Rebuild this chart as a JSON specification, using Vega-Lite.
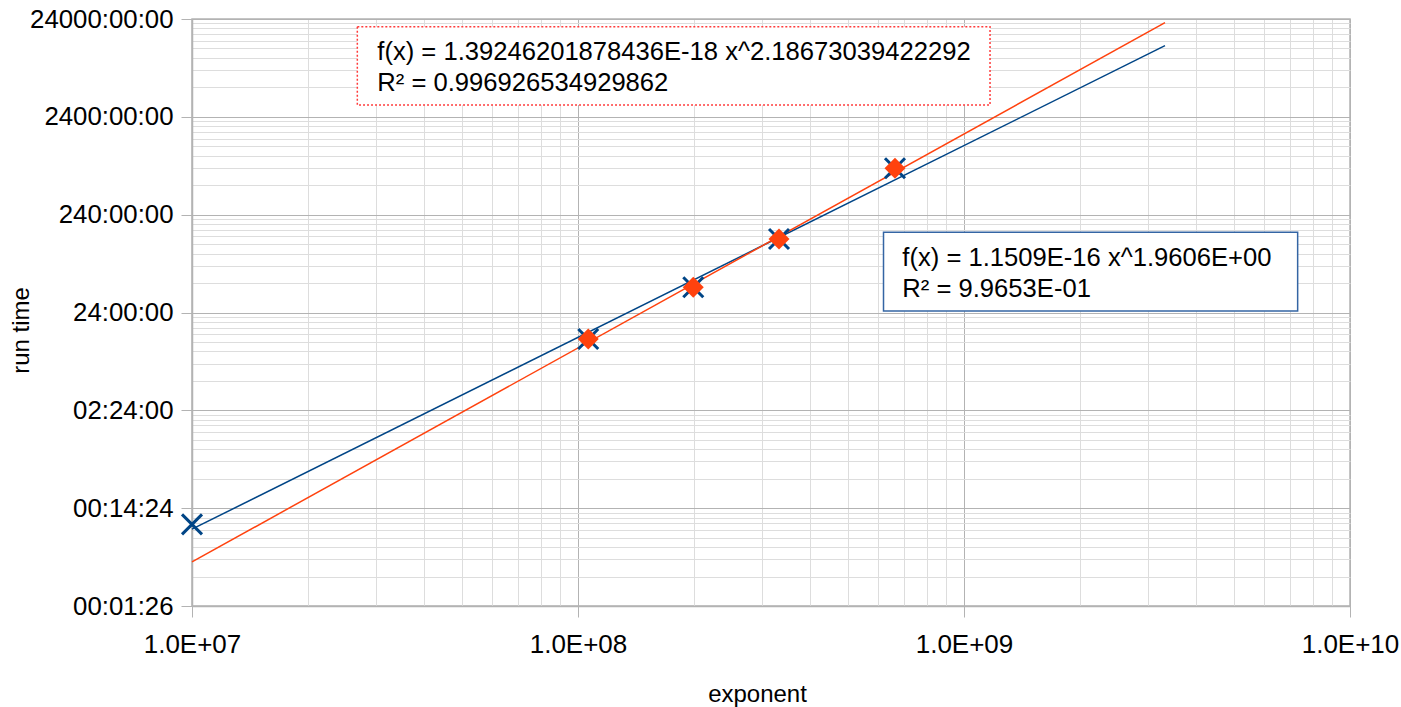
{
  "$schema": "https://vega.github.io/schema/vega-lite/v6.json",
  "width": 1158,
  "height": 587,
  "autosize": {"type": "none"},
  "padding": {"left": 192, "top": 19, "right": 51, "bottom": 101},
  "background": "white",
  "config": {"font": "Liberation Sans", "view": {"stroke": "#b3b3b3", "strokeWidth": 1.5}},
  "datasets": {
    "points": [
      {"exponent": 10000000, "seconds": 590},
      {"exponent": 106300000, "seconds": 46290},
      {"exponent": 198900000, "seconds": 156400},
      {"exponent": 331700000, "seconds": 487500},
      {"exponent": 662500000, "seconds": 2574000}
    ],
    "trend": [
      {"series": "blue", "exponent": 10000000, "seconds": 526.9},
      {"series": "blue", "exponent": 3317000000, "seconds": 46110000},
      {"series": "orange", "exponent": 10000000, "seconds": 244.0},
      {"series": "orange", "exponent": 3317000000, "seconds": 79340000}
    ],
    "boxes": [
      {"box": "orange", "exponent": 26810000, "exponent2": 1168000000, "seconds": 72110000, "seconds2": 11420000},
      {"box": "blue", "exponent": 618700000, "exponent2": 7318000000, "seconds": 570800, "seconds2": 89510}
    ],
    "notes": [
      {"exponent": 30200000, "seconds": 39770000, "label": "f(x) = 1.39246201878436E-18 x^2.18673039422292"},
      {"exponent": 30200000, "seconds": 19300000, "label": "R² = 0.996926534929862"},
      {"exponent": 692300000, "seconds": 313100, "label": "f(x) = 1.1509E-16 x^1.9606E+00"},
      {"exponent": 692300000, "seconds": 149200, "label": "R² = 9.9653E-01"}
    ]
  },
  "encoding": {
    "x": {
      "field": "exponent",
      "type": "quantitative",
      "scale": {"type": "log", "domain": [10000000, 10000000000], "nice": false},
      "axis": {
        "title": "exponent",
        "values": [10000000, 20000000, 30000000, 40000000, 50000000, 60000000, 70000000, 80000000, 90000000,
                   100000000, 200000000, 300000000, 400000000, 500000000, 600000000, 700000000, 800000000, 900000000,
                   1000000000, 2000000000, 3000000000, 4000000000, 5000000000, 6000000000, 7000000000, 8000000000, 9000000000,
                   10000000000],
        "labelExpr": "abs(log(datum.value)/LN10 - round(log(datum.value)/LN10)) > 0.001 ? '' : '1.0E+' + (round(log(datum.value)/LN10) < 10 ? '0' : '') + round(log(datum.value)/LN10)",
        "labelFontSize": 26,
        "labelColor": "black",
        "labelFlush": false,
        "labelOverlap": false,
        "labelPadding": 14,
        "tickSize": 11,
        "tickColor": {"condition": {"test": "abs(log(datum.value)/LN10 - round(log(datum.value)/LN10)) < 0.001", "value": "#b3b3b3"}, "value": "transparent"},
        "grid": true,
        "gridColor": {"condition": {"test": "abs(log(datum.value)/LN10 - round(log(datum.value)/LN10)) < 0.001", "value": "#b3b3b3"}, "value": "#dddddd"},
        "domainColor": "#b3b3b3",
        "domainWidth": 1.5,
        "titleFontSize": 24,
        "titleFontWeight": "normal",
        "titleColor": "black",
        "titleX": 565,
        "titleY": 88,
        "titleBaseline": "middle",
        "titleAlign": "center"
      }
    },
    "y": {
      "field": "seconds",
      "type": "quantitative",
      "scale": {"type": "log", "domain": [86.4, 86400000], "nice": false},
      "axis": {
        "title": "run time",
        "values": [86.4, 172.8, 259.2, 345.6, 432, 518.4, 604.8, 691.2, 777.6,
                   864, 1728, 2592, 3456, 4320, 5184, 6048, 6912, 7776,
                   8640, 17280, 25920, 34560, 43200, 51840, 60480, 69120, 77760,
                   86400, 172800, 259200, 345600, 432000, 518400, 604800, 691200, 777600,
                   864000, 1728000, 2592000, 3456000, 4320000, 5184000, 6048000, 6912000, 7776000,
                   8640000, 17280000, 25920000, 34560000, 43200000, 51840000, 60480000, 69120000, 77760000,
                   86400000],
        "labelExpr": "abs(log(datum.value/86.4)/LN10 - round(log(datum.value/86.4)/LN10)) > 0.001 ? '' : (floor(datum.value/3600) < 10 ? '0' : '') + floor(datum.value/3600) + ':' + (floor((datum.value%3600)/60) < 10 ? '0' : '') + floor((datum.value%3600)/60) + ':' + (round(datum.value%60) < 10 ? '0' : '') + round(datum.value%60)",
        "labelFontSize": 25.8,
        "labelColor": "black",
        "labelFlush": false,
        "labelOverlap": false,
        "labelPadding": 8,
        "tickSize": 11,
        "tickColor": {"condition": {"test": "abs(log(datum.value/86.4)/LN10 - round(log(datum.value/86.4)/LN10)) < 0.001", "value": "#b3b3b3"}, "value": "transparent"},
        "grid": true,
        "gridColor": {"condition": {"test": "abs(log(datum.value/86.4)/LN10 - round(log(datum.value/86.4)/LN10)) < 0.001", "value": "#b3b3b3"}, "value": "#dddddd"},
        "domainColor": "#b3b3b3",
        "domainWidth": 1.5,
        "titleFontSize": 24,
        "titleFontWeight": "normal",
        "titleColor": "black",
        "titleAngle": 270,
        "titleX": -171,
        "titleY": 311,
        "titleBaseline": "middle",
        "titleAlign": "center"
      }
    }
  },
  "layer": [
    {
      "data": {"name": "trend"},
      "mark": {"type": "line", "strokeWidth": 1.5},
      "encoding": {
        "color": {"field": "series", "type": "nominal", "scale": {"domain": ["blue", "orange"], "range": ["#004586", "#ff420e"]}, "legend": null},
        "detail": {"field": "series"}
      }
    },
    {
      "data": {"name": "points"},
      "mark": {"type": "point", "shape": "M-1,-1L1,1M-1,1L1,-1", "size": 400, "filled": false, "stroke": "#004586", "strokeWidth": 3, "opacity": 1}
    },
    {
      "data": {"name": "points"},
      "transform": [{"filter": "datum.exponent > 50000000"}],
      "mark": {"type": "point", "shape": "diamond", "size": 440, "filled": true, "color": "#ff420e", "opacity": 1}
    },
    {
      "data": {"name": "boxes"},
      "transform": [{"filter": "datum.box == 'orange'"}],
      "mark": {"type": "rect", "fill": "white", "stroke": "#ff3b3b", "strokeWidth": 1.5, "strokeDash": [2, 2]},
      "encoding": {"x2": {"field": "exponent2"}, "y2": {"field": "seconds2"}}
    },
    {
      "data": {"name": "boxes"},
      "transform": [{"filter": "datum.box == 'blue'"}],
      "mark": {"type": "rect", "fill": "white", "stroke": "#3465a4", "strokeWidth": 1.5},
      "encoding": {"x2": {"field": "exponent2"}, "y2": {"field": "seconds2"}}
    },
    {
      "data": {"name": "notes"},
      "mark": {"type": "text", "align": "left", "baseline": "middle", "fontSize": 25.6, "color": "black"},
      "encoding": {"text": {"field": "label"}}
    }
  ]
}
